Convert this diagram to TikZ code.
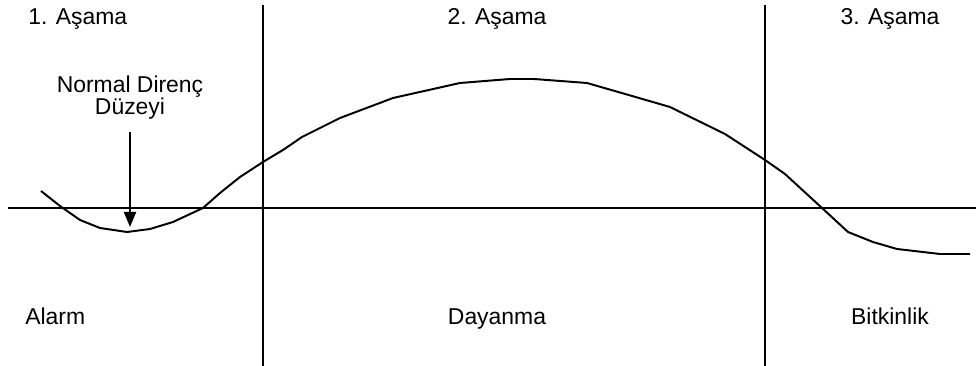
\documentclass[tikz,border=0pt]{standalone}
\usepackage{fontspec}
\setmainfont{Liberation Sans}
\usetikzlibrary{arrows.meta}

\tikzset{
  yazi/.style={inner sep=0pt, font=\fontsize{16.3}{15.6}\selectfont},
  cizgi/.style={line width=1.4pt},
}

\begin{document}
\begin{tikzpicture}[x=0.025cm, y=-0.025cm, >={Triangle[width=0.3cm, length=0.375cm]}]
  \useasboundingbox (0,0) rectangle (976,366);

  % --- 1. Eksen ve aşama sınırları ---
  \draw[cizgi] (8,208) -- (976,208);
  \draw[cizgi] (263,5) -- (263,366);
  \draw[cizgi] (765,5) -- (765,366);

  % --- 2. Direnç eğrisi ---
  \draw[cizgi, line join=round] (41,191) -- (60,206) -- (80,220) -- (100,228)
    -- (127,232) -- (150,229) -- (173,222) -- (203,208) -- (220,193)
    -- (240,177) -- (263,162) -- (283,150) -- (302,137) -- (340,118)
    -- (393,98) -- (460,83) -- (510,79) -- (534,79) -- (587,83)
    -- (639,98) -- (670,107) -- (725,134) -- (765,160) -- (785,174)
    -- (822,208) -- (848,232) -- (873,242) -- (897,249) -- (940,254)
    -- (970,254);

  % --- 3. Aşama başlıkları ---
  \node[yazi, anchor=base west] (asama1) at (28,25) {1. Aşama};
  \node[yazi, anchor=base] (asama2) at (497,25) {2. Aşama};
  \node[yazi, anchor=base] (asama3) at (890,25) {3. Aşama};

  % --- 4. Normal direnç düzeyi ve ok ---
  \node[yazi, align=center] (normal) at (130,98) {Normal Direnç\\Düzeyi};
  \coordinate (okbas) at (130,132);
  \coordinate (dip) at (130,227);
  \draw[cizgi, ->] (okbas) -- (dip);

  % --- 5. Aşama adları ---
  \node[yazi, anchor=base west] (alarm) at (25,325) {Alarm};
  \node[yazi, anchor=base] (dayanma) at (497,325) {Dayanma};
  \node[yazi, anchor=base] (bitkinlik) at (890,325) {Bitkinlik};

\end{tikzpicture}
\end{document}
